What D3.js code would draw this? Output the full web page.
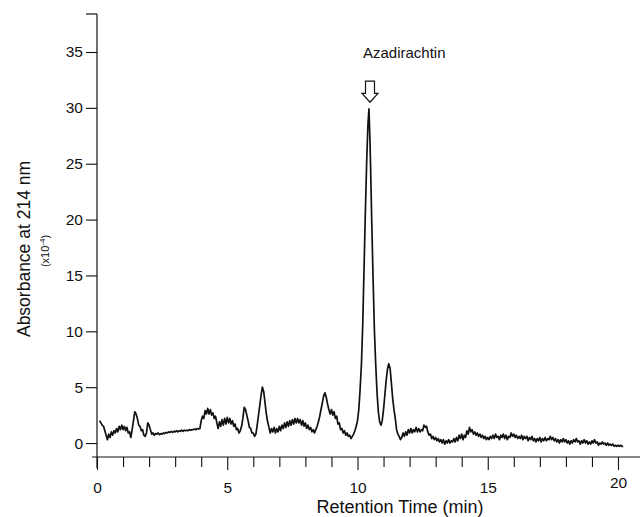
<!DOCTYPE html>
<html>
<head>
<meta charset="utf-8">
<script src="https://cdn.jsdelivr.net/npm/d3@7"></script>
<style>
  html, body { margin: 0; padding: 0; background: #fff; }
  svg { display: block; }
  text { font-family: "Liberation Sans", Arial, Helvetica, sans-serif; fill: #111; }
</style>
</head>
<body>
<svg id="chart" width="640" height="517"></svg>
<script>
// ---- Data: [retention time (min), absorbance (x10^-4)] ----
const chromatogram = [
  [0.10,2.0],[0.15,1.8],[0.20,1.6],[0.25,1.5],[0.30,1.1],[0.35,0.7],[0.40,0.3],[0.45,0.8],[0.50,0.5],[0.55,1.0],
  [0.60,0.7],[0.65,1.1],[0.70,0.9],[0.75,1.3],[0.80,1.0],[0.85,1.5],[0.90,1.2],[0.95,1.6],[1.00,1.2],[1.05,1.5],
  [1.10,1.1],[1.15,1.4],[1.20,0.9],[1.25,1.0],[1.30,0.5],[1.35,1.2],[1.40,2.0],[1.45,2.8],[1.50,2.6],[1.55,2.2],
  [1.60,1.6],[1.65,1.5],[1.70,1.1],[1.75,1.2],[1.80,0.7],[1.85,0.6],[1.90,0.9],[1.95,1.8],[2.00,1.6],[2.05,1.2],
  [2.10,0.8],[2.15,0.9],[2.20,0.7],[2.25,0.85],[2.30,0.8],[2.35,0.9],[2.40,0.75],[2.45,0.85],[2.50,0.8],[2.55,0.9],
  [2.60,0.85],[2.65,0.95],[2.70,0.9],[2.75,1.0],[2.80,0.95],[2.85,1.05],[2.90,0.95],[2.95,1.05],[3.00,1.0],[3.05,1.1],
  [3.10,1.0],[3.15,1.1],[3.20,1.05],[3.25,1.15],[3.30,1.05],[3.35,1.15],[3.40,1.1],[3.45,1.15],[3.50,1.1],[3.55,1.2],
  [3.60,1.15],[3.65,1.2],[3.70,1.2],[3.75,1.25],[3.80,1.2],[3.85,1.3],[3.90,1.25],[3.95,1.3],[4.00,2.0],[4.05,2.4],
  [4.10,2.2],[4.15,2.9],[4.20,2.6],[4.25,3.1],[4.30,2.6],[4.35,3.0],[4.40,2.5],[4.45,2.7],[4.50,2.2],[4.55,2.4],
  [4.60,1.8],[4.65,1.3],[4.70,1.9],[4.75,1.5],[4.80,2.1],[4.85,1.6],[4.90,2.2],[4.95,1.7],[5.00,2.3],[5.05,1.8],
  [5.10,2.2],[5.15,1.7],[5.20,2.0],[5.25,1.5],[5.30,1.7],[5.35,1.2],[5.40,1.3],[5.45,0.9],[5.50,1.1],[5.55,1.5],
  [5.60,2.2],[5.65,3.2],[5.70,3.0],[5.75,2.5],[5.80,2.0],[5.85,1.4],[5.90,1.3],[5.95,0.9],[6.00,0.9],[6.05,0.6],
  [6.10,0.8],[6.15,1.6],[6.20,2.5],[6.25,3.4],[6.30,4.3],[6.35,5.0],[6.40,4.6],[6.45,3.6],[6.50,2.6],[6.55,1.9],
  [6.60,1.4],[6.65,0.9],[6.70,1.3],[6.75,1.0],[6.80,1.4],[6.85,0.9],[6.90,1.3],[6.95,1.0],[7.00,1.5],[7.05,1.1],
  [7.10,1.6],[7.15,1.3],[7.20,1.8],[7.25,1.4],[7.30,1.9],[7.35,1.5],[7.40,2.0],[7.45,1.6],[7.50,2.1],[7.55,1.7],
  [7.60,2.2],[7.65,1.8],[7.70,2.2],[7.75,1.8],[7.80,2.1],[7.85,1.6],[7.90,2.0],[7.95,1.5],[8.00,1.8],[8.05,1.3],
  [8.10,1.6],[8.15,1.2],[8.20,1.4],[8.25,1.0],[8.30,1.2],[8.35,0.9],[8.40,1.2],[8.45,1.5],[8.50,1.9],[8.55,2.4],
  [8.60,3.0],[8.65,3.6],[8.70,4.2],[8.75,4.5],[8.80,4.1],[8.85,3.5],[8.90,3.0],[8.95,2.6],[9.00,3.0],[9.05,2.5],
  [9.10,2.8],[9.15,2.2],[9.20,2.4],[9.25,1.7],[9.30,1.8],[9.35,1.2],[9.40,1.3],[9.45,0.9],[9.50,1.1],[9.55,0.7],
  [9.60,0.9],[9.65,0.6],[9.70,0.7],[9.75,0.4],[9.80,0.6],[9.85,0.8],[9.90,1.1],[9.95,1.5],[10.00,2.0],
  [10.05,3.0],[10.10,4.8],[10.15,7.0],[10.20,10.5],[10.25,15.5],[10.30,20.5],[10.35,25.0],[10.40,28.5],[10.44,29.9],[10.48,27.0],
  [10.50,25.0],[10.55,19.5],[10.60,14.5],[10.65,10.0],[10.70,7.0],[10.75,4.5],[10.80,2.8],[10.85,1.9],[10.90,1.6],[10.95,2.0],
  [11.00,3.0],[11.05,4.3],[11.10,5.6],[11.15,6.6],[11.20,7.1],[11.25,6.7],[11.30,5.4],[11.35,4.0],[11.40,3.0],[11.45,2.2],
  [11.50,1.2],[11.55,0.8],[11.60,0.6],[11.65,0.3],[11.70,0.5],[11.75,0.9],[11.80,0.6],[11.85,1.0],[11.90,0.7],[11.95,1.2],
  [12.00,0.9],[12.05,1.3],[12.10,0.9],[12.15,1.2],[12.20,1.0],[12.25,1.4],[12.30,1.0],[12.35,1.3],[12.40,1.0],[12.45,1.2],
  [12.50,1.1],[12.55,1.6],[12.60,1.4],[12.65,1.5],[12.70,1.0],[12.75,0.7],[12.80,0.8],[12.85,0.4],[12.90,0.6],[12.95,0.3],
  [13.00,0.5],[13.05,0.2],[13.10,0.4],[13.15,0.1],[13.20,0.3],[13.25,0.0],[13.30,0.3],[13.35,-0.1],[13.40,0.2],[13.45,0.0],
  [13.50,0.3],[13.55,0.0],[13.60,0.2],[13.65,0.1],[13.70,0.4],[13.75,0.1],[13.80,0.5],[13.85,0.2],[13.90,0.7],[13.95,0.4],
  [14.00,0.8],[14.05,0.3],[14.10,0.7],[14.15,0.5],[14.20,1.1],[14.25,0.8],[14.30,1.4],[14.35,1.0],[14.40,1.2],[14.45,0.8],
  [14.50,1.0],[14.55,0.7],[14.60,0.9],[14.65,0.6],[14.70,0.8],[14.75,0.5],[14.80,0.7],[14.85,0.4],[14.90,0.6],[14.95,0.3],
  [15.00,0.5],[15.05,0.3],[15.10,0.6],[15.15,0.4],[15.20,0.7],[15.25,0.4],[15.30,0.8],[15.35,0.5],[15.40,0.6],[15.45,0.3],
  [15.50,0.7],[15.55,0.5],[15.60,0.8],[15.65,0.4],[15.70,0.7],[15.75,0.3],[15.80,0.6],[15.85,0.5],[15.90,0.9],[15.95,0.6],
  [16.00,0.8],[16.05,0.5],[16.10,0.7],[16.15,0.4],[16.20,0.6],[16.25,0.4],[16.30,0.7],[16.35,0.3],[16.40,0.6],[16.45,0.4],
  [16.50,0.6],[16.55,0.2],[16.60,0.5],[16.65,0.3],[16.70,0.6],[16.75,0.2],[16.80,0.4],[16.85,0.1],[16.90,0.4],[16.95,0.2],
  [17.00,0.5],[17.05,0.1],[17.10,0.4],[17.15,0.2],[17.20,0.5],[17.25,0.2],[17.30,0.4],[17.35,0.3],[17.40,0.6],[17.45,0.3],
  [17.50,0.5],[17.55,0.2],[17.60,0.4],[17.65,0.1],[17.70,0.3],[17.75,0.0],[17.80,0.3],[17.85,0.1],[17.90,0.4],[17.95,0.1],
  [18.00,0.3],[18.05,0.0],[18.10,0.2],[18.15,-0.1],[18.20,0.2],[18.25,0.0],[18.30,0.3],[18.35,0.1],[18.40,0.4],[18.45,0.1],
  [18.50,0.2],[18.55,-0.1],[18.60,0.2],[18.65,0.0],[18.70,0.3],[18.75,0.0],[18.80,0.2],[18.85,-0.1],[18.90,0.1],[18.95,-0.1],
  [19.00,0.2],[19.05,0.0],[19.10,0.3],[19.15,0.0],[19.20,0.1],[19.25,-0.2],[19.30,0.0],[19.35,-0.1],[19.40,0.1],[19.45,-0.1],
  [19.50,0.0],[19.55,-0.2],[19.60,0.0],[19.65,-0.2],[19.70,-0.1],[19.75,-0.2],[19.80,-0.1],[19.85,-0.3],[19.90,-0.2],[19.95,-0.3],
  [20.00,-0.2],[20.05,-0.3],[20.10,-0.2],[20.15,-0.3],[20.20,-0.3]
];
const xTickValues = [0,1,2,3,4,5,6,7,8,9,10,11,12,13,14,15,16,17,18,19,20];
const xTickLabels = ["0","5","10","15","20"];
const yTickValues = [0,5,10,15,20,25,30,35];
const peakLabel = "Azadirachtin";
const peakTime = 10.48;
const arrowTopValue = 32.4;
const arrowHeadValue = 31.3;
const arrowTipValue = 30.5;

// ---- Layout ----
const svg = d3.select("#chart");
const x = d3.scaleLinear().domain([0, 20]).range([97, 618]);
const y = d3.scaleLinear().domain([-1.25, 38.4]).range([457, 14]);
const ink = "#111";

// Y axis
const yAxis = d3.axisLeft(y).tickValues(yTickValues).tickSize(11).tickPadding(3).tickFormat(d3.format("d"));
const gy = svg.append("g").attr("transform", `translate(${x(0)},0)`).call(yAxis);
gy.select(".domain").remove();
gy.selectAll(".tick line").attr("stroke", ink).attr("stroke-width", 1.1);
gy.selectAll(".tick text").attr("font-size", 15.5).attr("fill", ink)
  .attr("font-family", "'Liberation Sans', Arial, sans-serif");
gy.append("line").attr("x1", 0).attr("x2", 0).attr("y1", y(38.4)).attr("y2", y(-1.25) + 11)
  .attr("stroke", ink).attr("stroke-width", 1.2);
gy.append("line").attr("x1", -11).attr("x2", 0).attr("y1", y(38.4)).attr("y2", y(38.4))
  .attr("stroke", ink).attr("stroke-width", 1.2);

// X axis
const xAxis = d3.axisBottom(x).tickValues(xTickValues)
  .tickSize(0).tickPadding(0).tickFormat(d => xTickLabels.includes(String(d)) ? String(d) : "");
const gx = svg.append("g").attr("transform", `translate(0,${y(-1.25)})`).call(xAxis);
gx.select(".domain").remove();
gx.append("line").attr("x1", 92).attr("x2", 640).attr("y1", 0).attr("y2", 0)
  .attr("stroke", ink).attr("stroke-width", 1.2);
gx.selectAll(".tick line")
  .attr("y2", d => d % 5 === 0 ? 13 : 10)
  .attr("stroke", ink).attr("stroke-width", 1.1);
gx.selectAll(".tick text").attr("font-size", 15.5).attr("fill", ink).attr("dy", 0)
  .attr("y", d => d === 20 ? 31 : 36).attr("font-family", "'Liberation Sans', Arial, sans-serif");

// Axis titles
svg.append("text")
  .attr("transform", `translate(30,249) rotate(-90)`)
  .attr("text-anchor", "middle").attr("font-size", 17.5)
  .text("Absorbance at 214 nm");
const unit = svg.append("text")
  .attr("transform", `translate(49,251) rotate(-90)`)
  .attr("text-anchor", "middle").attr("font-size", 11)
  .attr("font-family", "'Liberation Serif', 'Times New Roman', serif");
unit.append("tspan").text("(x10");
unit.append("tspan").attr("dy", -4).attr("font-size", 8).text("-4");
unit.append("tspan").attr("dy", 4).text(")");

svg.append("text")
  .attr("x", 400).attr("y", 513)
  .attr("text-anchor", "middle").attr("font-size", 18)
  .text("Retention Time (min)");

// Trace
svg.append("path")
  .datum(chromatogram)
  .attr("fill", "none")
  .attr("stroke", ink)
  .attr("stroke-width", 1.7)
  .attr("stroke-linejoin", "round")
  .attr("d", d3.line().x(d => x(d[0])).y(d => y(d[1])));

// Annotation arrow + label
const ax = x(peakTime), aTop = y(arrowTopValue), aMid = y(arrowHeadValue), aTip = y(arrowTipValue);
svg.append("path")
  .attr("d", `M${ax-4.5},${aTop} L${ax+4.5},${aTop} L${ax+4.5},${aMid} L${ax+8},${aMid} L${ax},${aTip} L${ax-8},${aMid} L${ax-4.5},${aMid} Z`)
  .attr("fill", "#fff").attr("stroke", ink).attr("stroke-width", 1.2);
svg.append("text")
  .attr("x", ax - 7).attr("y", 58)
  .attr("font-size", 15)
  .text(peakLabel);
</script>
</body>
</html>
